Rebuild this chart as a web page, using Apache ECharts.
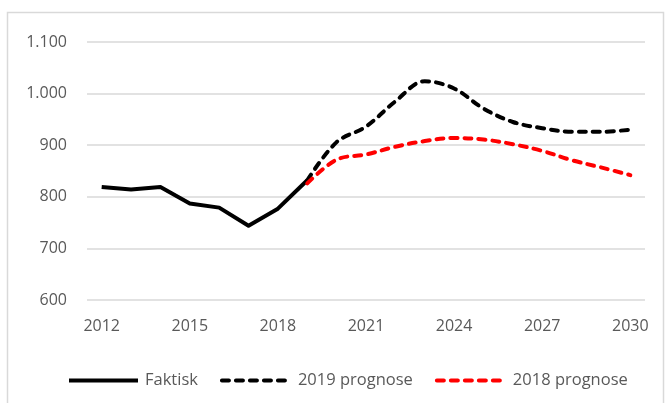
<!DOCTYPE html>
<html>
<head>
<meta charset="utf-8">
<script src="https://cdn.jsdelivr.net/npm/echarts@6/dist/echarts.min.js"></script>
<style>
  html, body { margin: 0; padding: 0; background: #fff; }
  #chart { width: 665px; height: 403px; }
</style>
</head>
<body>
<div id="chart"></div>
<script>
// år 2012-2030
const years = ['2012', '2013', '2014', '2015', '2016', '2017', '2018', '2019', '2020', '2021',
  '2022', '2023', '2024', '2025', '2026', '2027', '2028', '2029', '2030']
const faktisk = [819, 814, 819, 787, 779, 744, 777, 832,
  null, null, null, null, null, null, null, null, null, null, null]
const prognose2019 = [null, null, null, null, null, null, null,
  832, 906, 936, 985, 1024, 1010, 971, 945, 933, 926, 926, 930]
const prognose2018 = [null, null, null, null, null, null, null,
  826, 872, 882, 897, 908, 914, 911, 902, 889, 871, 857, 842]
const yTicks = [600, 700, 800, 900, 1000, 1100]

const font = '"Open Sans", "Noto Sans", sans-serif'
const grey = '#595959'

const chart = echarts.init(document.getElementById('chart'))

function dashed(color) {
  return { color: color, width: 4, type: [7, 7], cap: 'round', join: 'round' }
}

const option = {
  animation: false,
  textStyle: { fontFamily: font },
  graphic: [{
    type: 'rect',
    shape: { x: 7.5, y: 12.5, width: 656, height: 420 },
    style: { fill: 'none', stroke: '#d9d9d9', lineWidth: 1.5 },
    silent: true,
  }],
  grid: { left: 87, right: 20, top: 42, bottom: 103, containLabel: false },
  legend: {
    left: 67,
    top: 372,
    padding: 0,
    itemWidth: 69,
    itemHeight: 14,
    itemGap: 22,
    itemStyle: { opacity: 0 },
    textStyle: { fontFamily: font, fontSize: 16.5, color: grey, padding: [0, 0, 0, 2] },
    data: [
      { name: 'Faktisk', lineStyle: { color: '#000', width: 4, type: 'solid' } },
      { name: '2019 prognose', lineStyle: dashed('#000') },
      { name: '2018 prognose', lineStyle: dashed('#ff0000') },
    ],
  },
  xAxis: {
    type: 'category',
    data: years,
    boundaryGap: true,
    axisLine: { show: false },
    axisTick: { show: false },
    axisLabel: { interval: 2, margin: 18, fontSize: 16, color: grey, fontFamily: font },
  },
  yAxis: {
    type: 'value',
    min: yTicks[0],
    max: yTicks[yTicks.length - 1],
    interval: 100,
    axisLine: { show: false },
    axisTick: { show: false },
    splitLine: { lineStyle: { color: '#d9d9d9', width: 1.5 } },
    axisLabel: {
      margin: 20,
      fontSize: 16,
      color: grey,
      fontFamily: font,
      formatter: function (v) {
        return String(v).replace(/\B(?=(\d{3})+(?!\d))/g, '.')
      },
    },
  },
  series: [
    {
      name: 'Faktisk',
      type: 'line',
      data: faktisk,
      symbol: 'none',
      lineStyle: { color: '#000', width: 4, join: 'round' },
      itemStyle: { color: '#000' },
      z: 3,
    },
    {
      name: '2019 prognose',
      type: 'line',
      data: prognose2019,
      symbol: 'none',
      smooth: 0.35,
      lineStyle: dashed('#000'),
      itemStyle: { color: '#000' },
    },
    {
      name: '2018 prognose',
      type: 'line',
      data: prognose2018,
      symbol: 'none',
      smooth: 0.35,
      lineStyle: dashed('#ff0000'),
      itemStyle: { color: '#ff0000' },
    },
  ],
}

chart.setOption(option)
</script>
</body>
</html>
